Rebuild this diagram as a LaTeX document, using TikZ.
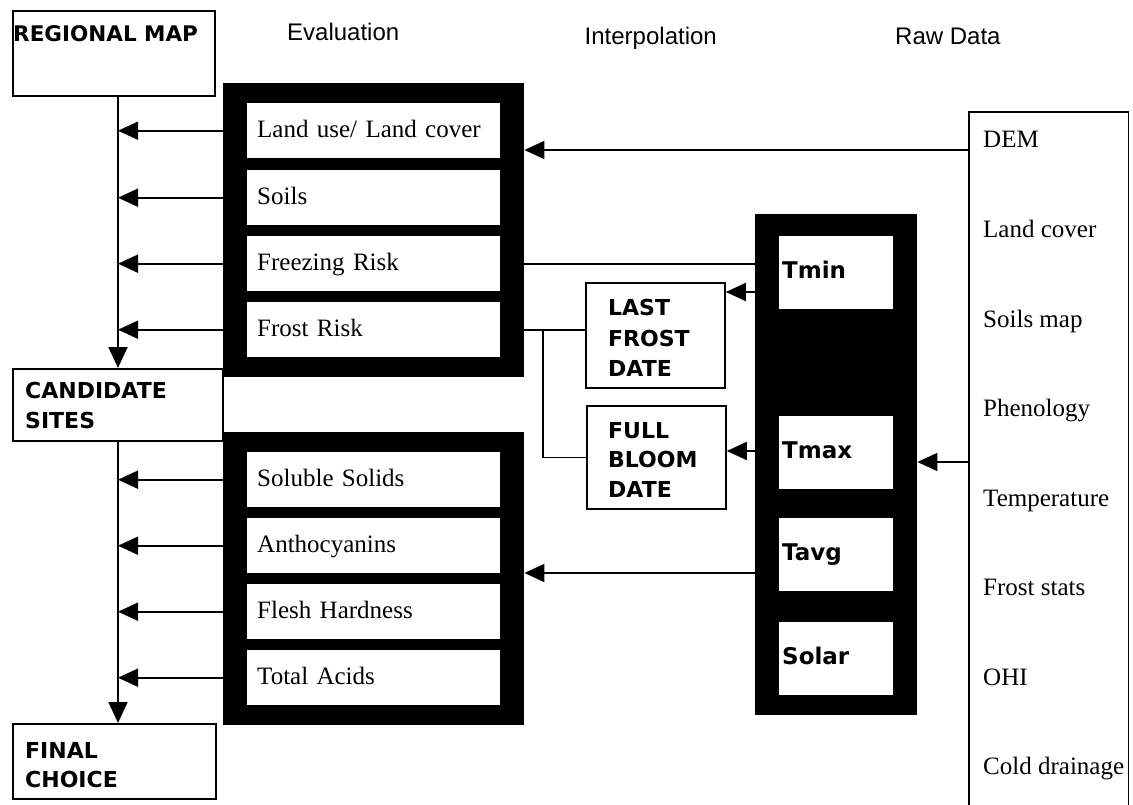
\documentclass[tikz,border=0pt]{standalone}
\usepackage{fontspec}
\setmainfont{Liberation Serif}
\newfontfamily\bsans{DejaVu Sans}
\newfontfamily\hsans{Liberation Sans}
\usetikzlibrary{arrows.meta,calc}
\tikzset{
  conn/.style={line width=1.8pt},
  arrH/.style={line width=1.8pt, -{Triangle[length=20pt,width=18pt]}},
  arrV/.style={line width=1.8pt, -{Triangle[length=21pt,width=19pt]}},
  frm/.style={fill=black, draw=none, inner sep=0pt, anchor=north west},
  ebox/.style={fill=white, inner xsep=10pt, inner ysep=0pt, text width=233pt,
    minimum height=55pt, text height=17pt, text depth=4pt, align=left,
    anchor=north west, font=\fontsize{25}{30}\selectfont},
  ibox/.style={fill=white, inner xsep=3pt, inner ysep=0pt, text width=108pt,
    minimum height=73pt, text height=16pt, text depth=5pt, align=left,
    anchor=north west, font=\bsans\bfseries\fontsize{23}{30}\selectfont},
  tbox/.style={draw, line width=1.8pt, inner sep=0pt, anchor=north west},
  btext/.style={inner sep=0pt, anchor=north west, align=left,
    font=\bsans\bfseries\fontsize{22}{30}\selectfont},
  rtext/.style={inner sep=0pt, anchor=base west, font=\fontsize{25}{30}\selectfont},
  head/.style={inner sep=0pt, font=\hsans\fontsize{24}{28}\selectfont},
}
\begin{document}
\begin{tikzpicture}[x=1pt,y=-1pt]
\useasboundingbox[fill=white] (0,0) rectangle (1133,805);

% headers
\node[head, anchor=base west] (hEval) at (287,41) {Evaluation};
\node[head, anchor=base east] (hInt) at (717,45) {Interpolation};
\node[head, anchor=base west] (hRaw) at (895,45) {Raw Data};

% left boxes
\node[tbox, minimum width=202pt, minimum height=85pt] (reg) at (12,10) {};
\node[btext, font=\bsans\bfseries\fontsize{21.5}{24}\selectfont] (regT) at (13,25.3) {REGIONAL MAP};
\node[tbox, minimum width=210pt, minimum height=72pt] (cand) at (12,368) {};
\node[btext] (candT) at (25,382) {CANDIDATE\\SITES};
\node[tbox, minimum width=203pt, minimum height=75pt] (final) at (12,723) {};
\node[btext, font=\bsans\bfseries\fontsize{22}{29}\selectfont] (finalT) at (25,742) {FINAL\\CHOICE};

% coordinates
\coordinate (tx) at (118,0);
\coordinate (br) at (543,0);
\coordinate (yDem) at (0,150);
\coordinate (yLast) at (0,292);
\coordinate (yBloom) at (0,451);
\coordinate (yTmax) at (0,462);
\coordinate (yTavg) at (0,573);

% black frames
\node[frm, minimum width=301pt, minimum height=294pt] (fA) at (223,83) {};
\node[frm, minimum width=301pt, minimum height=293pt] (fB) at (223,432) {};
\node[frm, minimum width=162pt, minimum height=501pt] (fT) at (755,214) {};

% evaluation boxes
\node[ebox] (e1) at (247,103) {Land use/ Land cover};
\node[ebox] (e2) at (247,170) {Soils};
\node[ebox] (e3) at (247,236) {Freezing Risk};
\node[ebox] (e4) at (247,302) {Frost Risk};
\node[ebox] (s1) at (247,452) {Soluble Solids};
\node[ebox] (s2) at (247,518) {Anthocyanins};
\node[ebox] (s3) at (247,584) {Flesh Hardness};
\node[ebox] (s4) at (247,650) {Total Acids};

% interpolation boxes
\node[ibox] (tmin) at (779,236) {Tmin};
\node[ibox] (tmax) at (779,416) {Tmax};
\node[ibox] (tavg) at (779,518) {Tavg};
\node[ibox] (solar) at (779,622) {Solar};

% date boxes
\node[tbox, minimum width=139pt, minimum height=105pt] (last) at (585,282) {};
\node[btext, font=\bsans\bfseries\fontsize{22}{30.5}\selectfont] (lastT) at (608,299) {LAST\\FROST\\DATE};
\node[tbox, minimum width=139pt, minimum height=103pt] (bloom) at (586,405) {};
\node[btext, font=\bsans\bfseries\fontsize{22}{29.5}\selectfont] (bloomT) at (608,422) {FULL\\BLOOM\\DATE};

% raw data box
\node[inner sep=0pt, minimum width=159pt, minimum height=710pt, anchor=north west] (raw) at (969,112) {};
\draw[conn] (raw.south west) -- (raw.north west) -- (raw.north east) -- (raw.south east);
\foreach \t [count=\i] in {DEM,Land cover,Soils map,Phenology,Temperature,Frost stats,OHI,Cold drainage}
  \node[rtext] (r\i) at (983,{148+(\i-1)*89.5}) {\t};

% trunk
\draw[arrV] (reg.south -| tx) -- (cand.north -| tx);
\draw[arrV] (cand.south -| tx) -- (final.north -| tx);
\foreach \b in {e1,e2,e3,e4}
  \draw[arrH] (fA.west |- \b.west) -- (tx |- \b.west);
\foreach \b in {s1,s2,s3,s4}
  \draw[arrH] (fB.west |- \b.west) -- (tx |- \b.west);

% other connectors
\draw[arrH] (raw.west |- yDem) -- (fA.east |- yDem);
\draw[conn] (fA.east |- e3.west) -- (fT.west |- e3.west);
\draw[conn] (fA.east |- e4.west) -- (last.west |- e4.west);
\draw[conn] (br |- e4.west) |- (bloom.west);
\draw[arrH] (fT.west |- yLast) -- (last.east |- yLast);
\draw[arrH] (fT.west |- yBloom) -- (bloom.east |- yBloom);
\draw[arrH] (raw.west |- yTmax) -- (fT.east |- yTmax);
\draw[arrH] (fT.west |- yTavg) -- (fB.east |- yTavg);
\end{tikzpicture}
\end{document}
